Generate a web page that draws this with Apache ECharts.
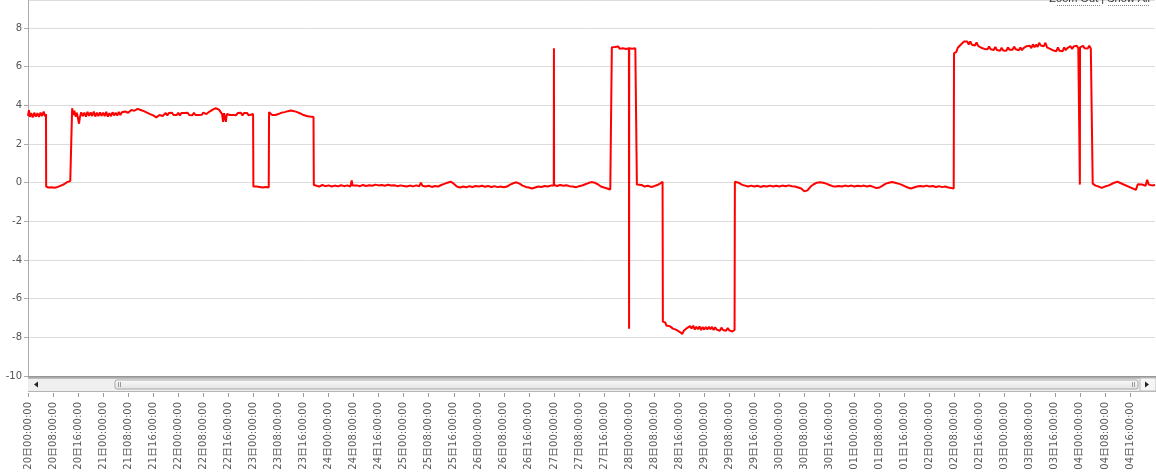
<!DOCTYPE html>
<html>
<head>
<meta charset="utf-8">
<script src="https://cdn.jsdelivr.net/npm/echarts@6/dist/echarts.min.js"></script>
<style>
html,body{margin:0;padding:0;background:#fff;}
#chart{width:1156px;height:473px;}
</style>
</head>
<body>
<div id="chart"></div>
<script>
// x values are hours since 20日00:00:00 (month with 30 days), y values are readings
const startDay = 20;
const daysInMonth = 30;
const yTicks = [-10, -8, -6, -4, -2, 0, 2, 4, 6, 8];

const segA = [[0,3.45],[0.3,3.75],[0.6,3.4],[1,3.6],[1.5,3.38],[2,3.62],[2.5,3.42],[3,3.6],[3.5,3.4],[4,3.62],[4.5,3.45],[5,3.68],[5.5,3.42],[5.75,3.55]];
const segB = [[5.8,-0.2],[6.5,-0.25],[7,-0.32],[7.5,-0.24],[8,-0.33],[8.5,-0.26],[9,-0.31],[9.5,-0.22],[10,-0.26],[10.5,-0.15],[11,-0.19],[11.5,-0.08],[12,-0.06],[12.5,0.03],[13,-0.01],[13.5,0.09],[14,0.04]];
const segC = [[14.1,3.85],[14.4,3.5],[14.8,3.72],[15.2,3.42],[15.6,3.62],[16,3.3],[16.3,3.05],[16.6,3.4],
  [17,3.64],[17.5,3.44],[18,3.62],[18.5,3.42],[19,3.66],[19.5,3.46],[20,3.64],[20.5,3.45],[21,3.68],[21.5,3.42],[22,3.62],[22.5,3.44],[23,3.63],[23.5,3.46],[24,3.62],
  [24.5,3.44],[25,3.66],[25.5,3.42],[26,3.6],[26.5,3.44],[27,3.64],[27.5,3.48],[28,3.62],[28.5,3.47],[29,3.66],[29.5,3.5],[30,3.64],
  [31,3.68],[32,3.62],[33,3.76],[34,3.72],[35,3.82],[36,3.76],[37,3.7],[38,3.62],[39,3.55],[40,3.48],[41,3.38],[42,3.5],[43,3.45],[44,3.6],
  [44.5,3.48],[45,3.6],[45.5,3.5],[46,3.62],[46.5,3.5],[47,3.6],[47.5,3.5],[48,3.62],[48.5,3.48],[49,3.6],[49.5,3.5],[50,3.6],[50.5,3.5],
  [51,3.62],[51.5,3.5],[52,3.6],[52.5,3.49],[53,3.61],[53.5,3.5],[54,3.6],[54.5,3.5],[55,3.6],[55.5,3.51],[56,3.62],[57,3.55],[58,3.68],
  [59,3.78],[60,3.85],[61,3.78],[61.6,3.7],[62,3.55],[62.3,3.15],[62.6,3.6],[63,3.5],[63.2,3.15],[63.5,3.55],[64,3.62],[64.5,3.5],[65,3.6],
  [65.5,3.5],[66,3.6],[66.5,3.49],[67,3.6],[67.5,3.5],[68,3.62],[68.5,3.48],[69,3.6],[69.5,3.5],[70,3.6],[70.5,3.48],[71,3.58],[71.9,3.55]];
const segD = [[72,-0.2],[72.5,-0.28],[73,-0.2],[73.5,-0.3],[74,-0.22],[74.5,-0.3],[75,-0.25],[75.5,-0.32],[76,-0.22],[76.5,-0.3],[76.9,-0.25]];
const segE = [[77,3.65],[77.5,3.6],[78,3.5],[78.5,3.45],[79,3.5],[80,3.55],[81,3.62],[82,3.65],[83,3.7],[84,3.73],[85,3.7],[86,3.65],[87,3.58],[88,3.5],[89,3.45],[90,3.42],[91.2,3.4]];
const segF = [[91.3,-0.12],[92,-0.15],[93,-0.2],[94,-0.12],[95,-0.18],[96,-0.14],[97,-0.2],[98,-0.15],[99,-0.19],[100,-0.13],[101,-0.18],[102,-0.14],[103,-0.2],[103.4,0.12],[103.7,-0.15],
  [104,-0.2],[105,-0.14],[106,-0.18],[107,-0.12],[108,-0.17],[109,-0.13],[110,-0.16],[111,-0.1],[112,-0.14],[113,-0.12],[114,-0.16],[115,-0.11],[116,-0.15],[117,-0.13],
  [118,-0.18],[119,-0.14],[120,-0.17],[121,-0.2],[122,-0.15],[123,-0.19],[124,-0.14],[125,-0.18],[125.5,0.0],[126,-0.16],[127,-0.2],[128,-0.16],[129,-0.22],[130,-0.17],
  [131,-0.2],[132,-0.12],[133,-0.06],[134,0.0],[135,0.05],[136,-0.05],[137,-0.2],[138,-0.25],[139,-0.2],[140,-0.24],[141,-0.18],[142,-0.22],[143,-0.17],[144,-0.2],
  [145,-0.16],[146,-0.21],[147,-0.17],[148,-0.22],[149,-0.18],[150,-0.23],[151,-0.2],[152,-0.24],[153,-0.2],[154,-0.1],[155,-0.03],[156,0.02],[157,-0.05],[158,-0.15],
  [159,-0.22],[160,-0.25],[161,-0.3],[162,-0.25],[163,-0.2],[164,-0.22],[165,-0.17],[166,-0.2],[167,-0.15],[167.95,-0.15],[168,6.95],[168.05,-0.12],[169,-0.17],
  [170,-0.12],[171,-0.16],[172,-0.13],[173,-0.18],[174,-0.2],[175,-0.24],[176,-0.18],[177,-0.15],[178,-0.08],[179,-0.02],[180,0.03],[181,0.0],[182,-0.08],[183,-0.2],
  [184,-0.25],[185,-0.3],[186,-0.35],[186.4,-0.33]];
const segG = [[186.5,7.0],[187,6.92],[187.5,7.02],[188,6.95],[188.5,7.05],[189,6.93],[189.5,7.0],[190,6.95],[190.5,7.03],[191,6.92],[191.5,7.0],[191.95,6.95],[192,-7.55],[192.05,6.95],[192.5,7.02],[193,6.93],[193.5,7.0],[194,6.95],[194.4,7.02]];
const segH = [[194.5,-0.1],[195,-0.15],[196,-0.12],[197,-0.2],[198,-0.16],[199,-0.22],[200,-0.18],[201,-0.12],[202,-0.03],[202.7,0.05]];
const segI = [[202.8,-7.2],[203,-7.3],[203.5,-7.22],[204,-7.4],[204.5,-7.3],[205,-7.42],[205.5,-7.38],[206,-7.55],[206.5,-7.48],[207,-7.6],[207.5,-7.55],[208,-7.7],[208.5,-7.62],[209,-7.82],
  [209.5,-7.66],[210,-7.7],[210.5,-7.52],[211,-7.62],[211.5,-7.42],[212,-7.55],[212.5,-7.4],[213,-7.6],[213.5,-7.45],[214,-7.58],[214.5,-7.44],[215,-7.62],[215.5,-7.47],
  [216,-7.6],[216.5,-7.46],[217,-7.6],[217.5,-7.45],[218,-7.58],[218.5,-7.46],[219,-7.62],[219.5,-7.48],[220,-7.6],[220.5,-7.5],[221,-7.66],[221.5,-7.5],[222,-7.62],
  [222.5,-7.52],[223,-7.66],[223.5,-7.52],[224,-7.64],[224.5,-7.55],[225,-7.7],[225.7,-7.62]];
const segJ = [[225.8,0.05],[226,0.08],[227,0.0],[228,-0.1],[229,-0.15],[230,-0.2],[231,-0.15],[232,-0.2],[233,-0.16],[234,-0.22],[235,-0.17],[236,-0.2],[237,-0.15],[238,-0.2],[239,-0.16],
  [240,-0.2],[241,-0.15],[242,-0.18],[243,-0.14],[244,-0.18],[245,-0.2],[246,-0.25],[247,-0.3],[248,-0.45],[248.5,-0.52],[249,-0.4],[250,-0.2],[251,-0.08],[252,0.0],[253,0.02],
  [254,0.0],[255,-0.05],[256,-0.12],[257,-0.18],[258,-0.2],[259,-0.17],[260,-0.2],[261,-0.15],[262,-0.19],[263,-0.15],[264,-0.2],[265,-0.16],[266,-0.19],[267,-0.15],[268,-0.2],
  [269,-0.16],[270,-0.22],[271,-0.28],[272,-0.25],[273,-0.15],[274,-0.05],[275,0.0],[276,0.03],[277,0.0],[278,-0.05],[279,-0.1],[280,-0.18],[281,-0.25],[282,-0.3],[283,-0.25],
  [284,-0.2],[285,-0.17],[286,-0.2],[287,-0.15],[288,-0.2],[289,-0.17],[290,-0.22],[291,-0.18],[292,-0.23],[293,-0.2],[294,-0.25],[295,-0.28],[295.7,-0.3]];
const segK = [[295.8,6.7],[296,6.8],[296.5,6.75],[297,6.98],[297.5,6.95],[298,7.15],[298.5,7.08],[299,7.3],[299.5,7.24],[300,7.3],[300.5,7.15],[301,7.3],[301.5,7.14],[302,7.22],
  [302.5,7.1],[303,7.25],[303.5,7.08],[304,7.12],[304.5,6.98],[305,7.05],[305.5,6.92],[306,7.02],[306.5,6.9],[307,7.04],[307.5,6.9],[308,7.0],[308.5,6.86],[309,7.02],
  [309.5,6.86],[310,6.95],[310.5,6.82],[311,6.98],[311.5,6.84],[312,6.92],[312.5,6.82],[313,7.0],[313.5,6.88],[314,6.98],[314.5,6.88],[315,7.04],[315.5,6.9],[316,6.98],
  [316.5,6.85],[317,7.0],[317.5,6.85],[318,6.96],[318.5,6.86],[319,7.06],[319.5,6.96],[320,7.08],[320.5,6.96],[321,7.16],[321.5,7.0],[322,7.14],[322.5,7.02],[323,7.24],
  [323.5,7.1],[324,7.2],[324.5,7.06],[325,7.24],[325.5,7.0],[326,7.1],[326.5,6.92],[327,7.02],[327.5,6.84],[328,6.94],[328.5,6.8],[329,7.0],[329.5,6.82],[330,6.92],
  [330.5,6.8],[331,7.0],[331.5,6.85],[332,6.96],[332.5,6.88],[333,7.06],[333.5,6.92],[334,7.04],[334.5,6.94],[335,7.08],[335.5,6.95],[335.95,7.0],[336,-0.1],[336.05,7.0],
  [336.5,6.95],[337,7.08],[337.5,6.96],[338,7.06],[338.5,6.94],[339,7.08],[339.5,6.94],[340,6.98]];
const segL = [[340.1,-0.05],[341,-0.15],[342,-0.2],[343,-0.27],[344,-0.2],[345,-0.15],[346,-0.08],[347,0.0],[348,0.05],[353.9,-0.37],[354.5,-0.08],[355,-0.15],[356,-0.1],[357,-0.16],[357.5,0.15],[358,-0.1],[359,-0.14],[360,-0.12]];

const seriesData = [].concat(segA, segB, segC, segD, segE, segF, segG, segH, segI, segJ, segK, segL);

function pad(n){ return (n < 10 ? '0' : '') + n; }
function hourLabel(h){
  let day = startDay + Math.floor(h / 24);
  if (day > daysInMonth) day -= daysInMonth;
  return pad(day) + '日' + pad(h % 24) + ':00:00';
}

const chart = echarts.init(document.getElementById('chart'), null, {renderer: 'canvas'});
const labelFont = '"DejaVu Sans", Verdana, "Noto Sans CJK SC", sans-serif';

const sbY = 376;
const option = {
  animation: false,
  backgroundColor: '#ffffff',
  grid: [
    {left: 28, right: 1, top: -1, height: 377},
    {left: 28, right: 1, top: 392, height: 1}
  ],
  xAxis: [
    {type: 'value', gridIndex: 0, min: 0, max: 360, interval: 8, show: true,
     axisLine: {show: false}, axisTick: {show: false}, axisLabel: {show: false}, splitLine: {show: false}},
    {type: 'value', gridIndex: 1, min: 0, max: 360, interval: 8, position: 'bottom',
     axisLine: {show: false},
     axisTick: {show: true, length: 4, lineStyle: {color: '#999'}},
     splitLine: {show: false},
     axisLabel: {show: true, rotate: 90, margin: 9, showMaxLabel: false, color: '#5a5a5a', fontSize: 10, fontFamily: labelFont,
       formatter: function(v){ return hourLabel(v); }}}
  ],
  yAxis: [
    {type: 'value', gridIndex: 0, min: -10, max: 9.45, interval: 2,
     axisLine: {show: true, lineStyle: {color: '#aaa'}},
     axisTick: {show: true, length: 4, lineStyle: {color: '#aaa'}},
     axisLabel: {margin: 6, showMaxLabel: false, color: '#555', fontSize: 10, fontFamily: labelFont,
       formatter: function(v){ return yTicks.indexOf(v) >= 0 ? String(v) : ''; }},
     splitLine: {show: true, lineStyle: {color: '#dcdcdc', width: 1}}},
    {type: 'value', gridIndex: 1, show: false}
  ],
  series: [{
    type: 'line', xAxisIndex: 0, yAxisIndex: 0,
    data: seriesData,
    showSymbol: false, symbol: 'none', sampling: null,
    lineStyle: {color: '#ff0000', width: 2},
    itemStyle: {color: '#ff0000'}
  }],
  graphic: [
    // scrollbar
    {type: 'rect', shape: {x: 28, y: sbY, width: 1128, height: 3}, style: {fill: new echarts.graphic.LinearGradient(0,0,0,1,[{offset:0,color:'#8c8c8c'},{offset:1,color:'#c8c8c8'}])}, z: 100},
    {type: 'rect', shape: {x: 28, y: sbY + 3, width: 1128, height: 12}, style: {fill: '#efefef'}, z: 100},
    {type: 'rect', shape: {x: 28, y: sbY + 15, width: 1128, height: 1}, style: {fill: '#b4b4b4'}, z: 100},
    {type: 'rect', shape: {x: 115, y: sbY + 4, width: 1023, height: 9, r: 2},
     style: {fill: new echarts.graphic.LinearGradient(0,0,0,1,[{offset:0,color:'#fbfbfb'},{offset:1,color:'#e2e2e2'}]), stroke: '#a8a8a8', lineWidth: 1}, z: 101},
    {type: 'line', shape: {x1: 118.5, y1: sbY + 6, x2: 118.5, y2: sbY + 11}, style: {stroke: '#999', lineWidth: 1}, z: 102},
    {type: 'line', shape: {x1: 120.5, y1: sbY + 6, x2: 120.5, y2: sbY + 11}, style: {stroke: '#999', lineWidth: 1}, z: 102},
    {type: 'line', shape: {x1: 1132.5, y1: sbY + 6, x2: 1132.5, y2: sbY + 11}, style: {stroke: '#999', lineWidth: 1}, z: 102},
    {type: 'line', shape: {x1: 1134.5, y1: sbY + 6, x2: 1134.5, y2: sbY + 11}, style: {stroke: '#999', lineWidth: 1}, z: 102},
    {type: 'polygon', shape: {points: [[34, sbY + 8.5], [38, sbY + 5.5], [38, sbY + 11.5]]}, style: {fill: '#222'}, z: 102},
    {type: 'rect', shape: {x: 1140, y: sbY + 2, width: 16, height: 13}, style: {fill: '#f6f6f6', stroke: '#bbb', lineWidth: 1}, z: 101},
    {type: 'polygon', shape: {points: [[1149, sbY + 8.5], [1145, sbY + 5.5], [1145, sbY + 11.5]]}, style: {fill: '#222'}, z: 102},
    // zoom links at top-right (partly cut off)
    {type: 'text', x: 1150, y: 4, style: {text: 'Zoom Out | Show All', fill: '#333', font: '11px "Liberation Sans", Arial, sans-serif', textAlign: 'right', textVerticalAlign: 'bottom'}, z: 100},
    {type: 'line', shape: {x1: 1057, y1: 5.5, x2: 1100, y2: 5.5}, style: {stroke: '#888', lineWidth: 1, lineDash: [1, 1]}, z: 100},
    {type: 'line', shape: {x1: 1108, y1: 5.5, x2: 1150, y2: 5.5}, style: {stroke: '#888', lineWidth: 1, lineDash: [1, 1]}, z: 100}
  ]
};
chart.setOption(option);
</script>
</body>
</html>
